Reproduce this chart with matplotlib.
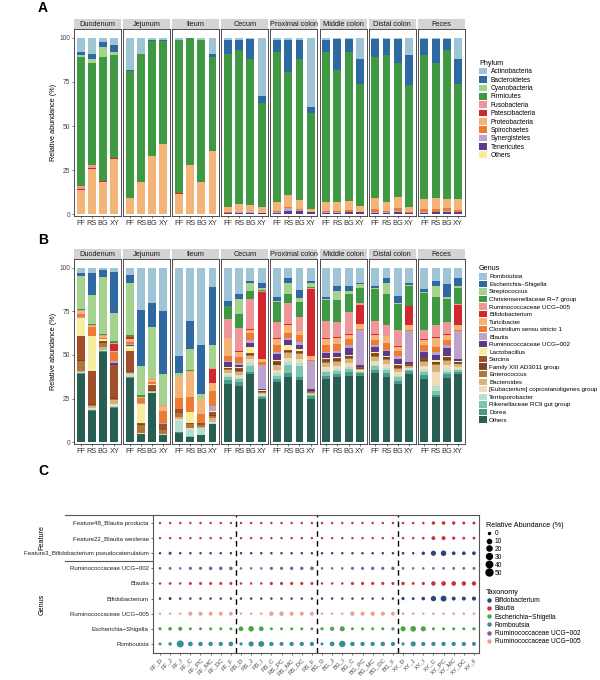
#Load packages.
import numpy as np
import matplotlib
matplotlib.use('Agg')
import matplotlib.pyplot as plt
from matplotlib.patches import Patch
from matplotlib.lines import Line2D

plt.rcParams['font.family'] = ['Liberation Sans', 'DejaVu Sans']

#Sections and groups.
sections = ['Duodenum', 'Jejunum', 'Ileum', 'Cecum', 'Proximal colon', 'Middle colon', 'Distal colon', 'Feces']
section_codes = ['D', 'J', 'I', 'C', 'PC', 'MC', 'DC', 'F']
groups = ['FF', 'RS', 'BG', 'XY']

#Phylum level (panel A).
phylum_names = ['Actinobacteria', 'Bacteroidetes', 'Cyanobacteria', 'Firmicutes', 'Fusobacteria',
                'Patescibacteria', 'Proteobacteria', 'Spirochaetes', 'Synergistetes', 'Tenericutes', 'Others']
phylum_colors = ['#9fc4d5', '#2e6aa1', '#a5d38f', '#3f9842', '#ef9798',
                 '#d0282e', '#f4b478', '#ef7a33', '#bba3cc', '#5a3a8a', '#f6ee9c']

#Rows are FF, RS, BG, XY; columns follow phylum_names.
phylum_duodenum = [[8, 1.5, 1.5, 73, 1.5, 0.5, 14, 0, 0, 0, 0],
                   [9, 3, 2, 58, 2, 0.5, 25.5, 0, 0, 0, 0],
                   [2.5, 2.5, 6, 70, 0.2, 0.3, 18.5, 0, 0, 0, 0],
                   [4, 4, 1.5, 58.5, 0.2, 0.3, 31.5, 0, 0, 0, 0]]
phylum_jejunum = [[18.5, 0.5, 0, 72, 0, 0, 9, 0, 0, 0, 0],
                  [9, 0, 0, 73, 0, 0, 18, 0, 0, 0, 0],
                  [1.5, 0.3, 0, 65.2, 0, 0, 33, 0, 0, 0, 0],
                  [1.5, 0.3, 0, 58.2, 0, 0, 40, 0, 0, 0, 0]]
phylum_ileum = [[1.5, 0, 0, 86.5, 0, 0.5, 11.5, 0, 0, 0, 0],
                [0.3, 0, 0, 71.7, 0, 0, 28, 0, 0, 0, 0],
                [1.2, 0, 0, 80.8, 0, 0, 18, 0, 0, 0, 0],
                [9, 2, 0, 53, 0, 0, 36, 0, 0, 0, 0]]
phylum_cecum = [[1, 8, 0, 87, 0, 0, 3, 0.2, 0.3, 0.5, 0],
                [1, 6, 0, 87, 0, 0, 4.5, 0.2, 0.8, 0.5, 0],
                [0.5, 11.5, 0, 83, 0, 0, 3.5, 0.2, 0.8, 0.5, 0],
                [33, 4, 0, 59, 0, 0, 3.5, 0, 0, 0.5, 0]]
phylum_proximal = [[1, 7, 0, 85, 0, 0, 5, 1, 0.3, 0.7, 0],
                   [1, 18.5, 0, 69.5, 0, 0, 7, 0.5, 1.5, 2, 0],
                   [1, 11, 0, 80, 0, 0, 5, 0.5, 0.5, 2, 0],
                   [39, 3.5, 0, 54.5, 0, 0, 2, 0, 0, 1, 0]]
phylum_middle = [[1, 7, 0, 85, 0, 0, 5, 1, 0.3, 0.7, 0],
                 [0.5, 17.5, 0, 75, 0, 0, 5, 1, 0.3, 0.7, 0],
                 [0.5, 7.5, 0, 84.6, 0, 0, 5, 1, 0.4, 1, 0],
                 [12, 14, 0, 69.5, 0, 0, 3, 0.5, 0, 0.7, 0.3]]
phylum_distal = [[0.5, 10.5, 0, 80, 0, 0, 6, 2, 0.3, 0.7, 0],
                 [0.5, 9.5, 0, 83, 0, 0, 5, 1, 0.3, 0.7, 0],
                 [0.5, 13.5, 0, 76.4, 0, 0, 6, 2, 0.6, 1, 0],
                 [10, 17, 0, 69, 0, 0, 3, 0.5, 0, 0.5, 0]]
phylum_feces = [[0.5, 9, 0, 82, 0, 0, 5.5, 2, 0.3, 0.7, 0],
                [0.5, 13.5, 0, 77, 0, 0, 6, 1.5, 0.5, 1, 0],
                [0.5, 6.5, 0, 84.5, 0, 0, 5, 1.5, 0.5, 1.5, 0],
                [12, 14, 0, 65.5, 0, 0, 6, 1, 0.5, 1, 0]]

#Genus level (panel B).
genus_names = ['Romboutsia', 'Escherichia\u2013Shigella', 'Streptococcus', 'Christensenellaceae R\u22127 group',
               'Ruminococcaceae UCG\u2212005', 'Bifidobacterium', 'Turicibacter', 'Clostridium sensu stricto 1',
               'Blautia', 'Ruminococcaceae UCG\u2212002', 'Lactobacillus', 'Sarcina', 'Family XIII AD3011 group',
               'Enterococcus', 'Bacteroides', '[Eubacterium] coprostanoligenes group', 'Terrisporobacter',
               'Rikenellaceae RC9 gut group', 'Dorea', 'Others']
genus_colors = ['#9fc4d5', '#2e6aa1', '#a5d38f', '#3f9842', '#ef9798',
                '#d0282e', '#f4b478', '#ef7a33', '#bba3cc', '#5a3a8a',
                '#f6ee9c', '#a04f2a', '#7a4626', '#b07838', '#d6b27f',
                '#efdcb6', '#b4e0d3', '#7cc4ae', '#489a88', '#295e55']

genus_duodenum = [[3, 2, 18.5, 0.8, 0.5, 0.2, 1.5, 2, 0.3, 0.2, 10, 14, 0.5, 5.5, 0.5, 0.3, 0.5, 0.2, 0.2, 39.3],
                  [3, 12.5, 16.7, 0.5, 0.5, 0.1, 0.8, 5, 0.1, 0.1, 20, 19, 0.5, 0.5, 1, 0.5, 0.7, 0.2, 0.2, 18.1],
                  [1.1, 4, 33, 0.7, 0.3, 0.1, 1, 0.5, 0.1, 0.1, 1, 0.5, 0.5, 2.5, 1.5, 0.3, 0.5, 0.1, 0.2, 52],
                  [2.5, 23.5, 16, 1.4, 0.3, 3.8, 0.5, 5.3, 1.3, 1, 0.3, 19, 0.5, 0.5, 2, 1.5, 0.5, 0.1, 0.2, 19.8]]
genus_jejunum = [[4, 5, 29.5, 1, 0.3, 1, 1.5, 1.5, 0.5, 0.5, 3, 11.5, 0.5, 0.5, 0.5, 0.5, 1.3, 0.2, 0.2, 37],
                 [24, 32.3, 16.6, 1, 0.2, 0.1, 0.5, 3, 0.1, 0.1, 11.3, 0.5, 0.3, 4.5, 0.3, 0.2, 0.3, 0.1, 0.1, 4.5],
                 [20, 14, 29.5, 0.5, 0.2, 0.2, 1, 1, 0.1, 0.1, 0.5, 3, 0.3, 0.5, 0.3, 0.2, 0.3, 0.1, 0.2, 28],
                 [25, 36, 17.5, 0.3, 0.2, 0.2, 3, 7, 0.2, 0.1, 0.2, 3, 0.3, 2, 0.2, 0.2, 0.2, 0.1, 0.1, 4.2]]
genus_ileum = [[50.8, 9.6, 2, 0.2, 0.1, 0.1, 12, 6, 0.1, 0.1, 0.2, 2, 0.2, 2, 1.5, 1, 6, 0.5, 0.2, 5.4],
               [30.3, 16.2, 12, 0.5, 0.1, 0.1, 15, 8.5, 0.1, 0.1, 6, 0.5, 0.3, 2, 0.3, 1, 3.5, 0.3, 0.2, 3],
               [44.5, 27.7, 2.8, 0.1, 0.1, 0.1, 8.6, 4.8, 0.1, 0.1, 0.2, 1, 0.2, 1, 0.3, 0.2, 3.8, 0.2, 0.1, 4.1],
               [10.8, 33.7, 12.8, 0.3, 0.2, 8.2, 4.8, 8.5, 2.8, 0.2, 0.2, 2, 0.3, 1.5, 2, 0.5, 0.5, 0.1, 0.3, 10.3]]
genus_cecum = [[19.2, 2.5, 0.5, 7.3, 10.5, 0, 10.5, 2.8, 0.5, 2.9, 0.5, 0.5, 0.5, 0.5, 1.5, 1.5, 1, 1.5, 2.5, 33.3],
               [15, 3, 8.5, 8, 13.4, 0.3, 3, 3.3, 1, 1.5, 0.5, 0.5, 1, 0.5, 2, 1.5, 1, 1.5, 2, 32.5],
               [7.5, 1.5, 4.5, 4.5, 17, 0.5, 2, 4, 1.5, 2.5, 3.5, 0.5, 0.5, 0.5, 2, 2, 2, 3, 1.5, 39],
               [8.8, 2.8, 1.2, 0.5, 0.5, 38.5, 2, 1.5, 13.5, 1, 0.2, 0.3, 0.5, 0.2, 0.8, 0.7, 0.5, 0.5, 1.5, 24.5]]
genus_proximal = [[16.5, 2.5, 0.5, 11.5, 9.5, 0.5, 3.5, 4, 1, 3.5, 0.5, 0.5, 1.5, 0.5, 2.5, 2, 1.5, 1.5, 2, 34.5],
                  [6, 3, 6, 5, 12.5, 0.5, 4.5, 3, 1, 3, 2.5, 0.5, 1, 0.5, 3, 2, 1.5, 5, 2, 37.5],
                  [13, 4.5, 2, 8.5, 8, 0.5, 2, 4, 1.5, 2.5, 1, 0.5, 1, 0.5, 3, 2, 2, 6, 2, 35.5],
                  [7.5, 1.5, 2, 0.5, 0.5, 38.5, 2.5, 0.5, 16, 1.2, 0.2, 0.2, 0.3, 0.2, 0.5, 0.5, 0.5, 0.5, 1.5, 24.9]]
genus_middle = [[16.5, 1.5, 0.5, 12, 10, 0.5, 3, 4, 1, 3, 0.5, 0.5, 1, 0.5, 2.5, 2, 1, 2, 2, 36],
                [10.4, 2.7, 5.6, 12.6, 8.5, 0.5, 3.5, 4, 1, 2.5, 0.5, 0.5, 1, 0.5, 2.5, 2, 1, 1.5, 2, 37.2],
                [10.4, 2.7, 1.9, 10.4, 12.4, 0.5, 2.5, 3.5, 1.5, 4, 0.5, 0.5, 1, 0.5, 2.5, 2, 1, 2, 2, 38.2],
                [8.6, 0.9, 1.9, 8.6, 1.3, 11, 2.9, 0.5, 20, 1, 0.3, 0.3, 0.5, 0.2, 0.8, 0.7, 0.5, 0.5, 1.5, 38]]
genus_distal = [[10.4, 1.4, 0.5, 18.2, 7.5, 0.5, 3, 3, 1, 3, 0.5, 0.5, 1, 0.5, 2.5, 2, 1, 2, 2, 39.5],
                [6, 2.8, 6.3, 17.5, 6.3, 0.5, 3.5, 4, 1, 2.5, 0.5, 0.5, 1, 0.5, 2.5, 2, 1, 2, 2, 37.6],
                [16.2, 3.8, 1, 14.8, 9, 0.5, 2.5, 3, 1.5, 3, 0.5, 0.5, 1, 0.5, 2, 2, 1, 2, 2, 33.2],
                [8.8, 0.9, 1, 11, 0.5, 10.5, 2.8, 0.5, 18, 1, 0.3, 0.3, 0.5, 0.2, 1, 1, 0.5, 0.5, 1.5, 39.2]]
genus_feces = [[12.2, 1.8, 0.5, 21.3, 5.2, 0.5, 3, 3, 1, 3, 0.5, 0.5, 1, 0.5, 2.5, 2, 1, 2, 2, 36.5],
               [7.5, 2.9, 6.6, 16.1, 6.7, 0.5, 5, 3, 1.5, 3, 1, 0.5, 1, 0.5, 4, 8, 3, 2, 1.5, 25.7],
               [9.3, 7.2, 1.5, 13.3, 6.7, 0.5, 3, 3, 1.5, 4.5, 0.5, 0.5, 1.5, 0.5, 2.5, 2.5, 1, 1.5, 2, 37],
               [6, 4.4, 1, 9.6, 0.5, 11.3, 2.9, 0.5, 16, 1.5, 0.3, 0.3, 0.7, 0.2, 1.5, 1.5, 0.5, 0.8, 1.5, 39]]

phylum_data = [phylum_duodenum, phylum_jejunum, phylum_ileum, phylum_cecum,
               phylum_proximal, phylum_middle, phylum_distal, phylum_feces]
genus_data = [genus_duodenum, genus_jejunum, genus_ileum, genus_cecum,
              genus_proximal, genus_middle, genus_distal, genus_feces]

#Dot plot (panel C): 32 columns, FF_D ... XY_F.
dot_rows = ['Feature48_Blautia producta', 'Feature22_Blautia wexlerae', 'Feature3_Bifidobacterium pseudocatenulatum',
            'Ruminococcaceae UCG\u2212002', 'Blautia', 'Bifidobacterium', 'Ruminococcaceae UCG\u2212005',
            'Escherichia\u2212Shigella', 'Romboutsia']
feature48_dots = [0.4, 0.4, 0.4, 0.4, 0.4, 0.4, 0.4, 0.4, 0.4, 0.4, 0.4, 0.4, 0.4, 0.4, 0.4, 0.4,
                  0.4, 0.4, 0.4, 0.4, 0.4, 0.4, 0.4, 0.4, 0.5, 0.5, 0.5, 4, 5, 4, 2, 2]
feature22_dots = [0.4, 0.4, 0.4, 0.4, 0.4, 0.4, 0.4, 0.4, 0.4, 0.4, 0.4, 0.4, 0.4, 0.4, 0.4, 0.4,
                  0.4, 0.4, 0.4, 0.4, 0.4, 0.4, 0.4, 0.4, 0.5, 0.5, 1, 7, 8, 3, 1.5, 1.5]
feature3_dots = [0.5, 2, 0.5, 0.5, 0.5, 0.5, 0.5, 0.5, 0.5, 0.5, 0.5, 0.5, 0.5, 0.5, 0.5, 0.5,
                 0.5, 0.5, 0.5, 0.5, 0.5, 0.5, 0.5, 0.5, 1, 0.5, 4, 20, 25, 6, 6, 6]
ucg002_dots = [1, 1.5, 0.5, 3, 3, 5, 5, 5, 0.5, 0.5, 0.5, 3, 3, 4, 4, 6,
               0.5, 0.5, 0.5, 2.5, 2.5, 4, 3, 4, 1, 0.5, 0.5, 1, 1, 1.5, 1.5, 1.5]
blautia_dots = [0.5, 1, 0.5, 2, 2, 2, 2, 2, 0.5, 0.5, 0.5, 2.5, 2.5, 2.5, 2.5, 2,
                0.5, 0.5, 0.5, 2.5, 2.5, 2.5, 2.5, 2, 4, 1.5, 3, 12, 14, 14, 12, 11]
bifido_dots = [0.5, 2, 0.5, 0.5, 0.5, 0.5, 0.5, 0.5, 0.5, 0.5, 0.5, 0.5, 0.5, 0.5, 0.5, 0.5,
               0.5, 0.5, 0.5, 0.5, 0.5, 0.5, 0.5, 0.5, 3, 1.5, 5, 22, 30, 8, 8, 9]
ucg005_dots = [0.5, 0.5, 0.3, 9, 8, 8, 7, 7, 0.5, 0.5, 0.5, 12, 12, 9, 8, 7,
               0.5, 0.3, 0.3, 12, 9, 11, 9, 7, 1, 1, 0.5, 1, 1, 1, 1, 1]
escherichia_dots = [3, 5, 8, 2, 2, 2, 2, 2, 15, 25, 15, 2, 2, 2, 2, 2,
                    3, 10, 18, 2, 2, 2, 2, 3, 20, 28, 20, 2, 2, 2, 2, 3]
romboutsia_dots = [2, 4, 50, 15, 12, 12, 10, 14, 3, 20, 30, 10, 8, 10, 10, 10,
                   2, 15, 40, 12, 10, 10, 12, 10, 3, 20, 10, 10, 10, 10, 10, 8]
dot_values = [feature48_dots, feature22_dots, feature3_dots, ucg002_dots, blautia_dots,
              bifido_dots, ucg005_dots, escherichia_dots, romboutsia_dots]

taxonomy_names = ['Bifidobacterium', 'Blautia', 'Escherichia\u2212Shigella', 'Romboutsia',
                  'Ruminococcaceae UCG\u2212002', 'Ruminococcaceae UCG\u2212005']
taxonomy_colors = ['#27467a', '#c8333b', '#4aa647', '#3a8c9c', '#7e5c9e', '#eba391']
row_taxonomy = [1, 1, 0, 4, 1, 0, 5, 2, 3]
size_breaks = [0, 10, 20, 30, 40, 50]

fig = plt.figure(figsize=(6, 6.8), dpi=100)
W, H = 600.0, 680.0


def px_axes(x0, y0, x1, y1):
    return fig.add_axes([x0 / W, 1 - y1 / H, (x1 - x0) / W, (y1 - y0) / H])


def dot_size(v):
    d = (2 + 5 * np.sqrt(np.asarray(v, dtype=float) / 50.0)) * 0.72
    return d


#Stacked bar panels A and B.
def stacked_panel(data, colors, strip_top, panel_top, panel_bottom):
    for i, sec in enumerate(sections):
        x0 = 74 + i * 49.1
        ax = px_axes(x0, panel_top, x0 + 47, panel_bottom)
        vals = np.array(data[i], dtype=float)
        x = np.arange(1, len(groups) + 1)
        bottom = np.zeros(len(groups))
        for k in range(vals.shape[1] - 1, -1, -1):
            ax.bar(x, vals[:, k], 0.7, bottom=bottom, color=colors[k], linewidth=0)
            bottom += vals[:, k]
        ax.set_xlim(0.4, 4.6)
        ax.set_ylim(-1, 105)
        ax.set_xticks(x)
        ax.set_xticklabels(groups, fontsize=5.3, color='#333333')
        ax.tick_params(axis='x', length=1.5, width=0.5, pad=1.5, color='#333333')
        for sp in ax.spines.values():
            sp.set_color('#333333')
            sp.set_linewidth(0.6)
        if i == 0:
            ax.set_yticks([0, 25, 50, 75, 100])
            ax.set_yticklabels(['0', '25', '50', '75', '100'], fontsize=4.8, color='#444444')
            ax.tick_params(axis='y', length=1.5, width=0.5, pad=1, color='#333333')
            ax.set_ylabel('Relative abundance (%)', fontsize=5.2, labelpad=2)
        else:
            ax.set_yticks([])
        strip = px_axes(x0, strip_top, x0 + 47, panel_top)
        strip.set_facecolor('#d4d4d4')
        strip.set_xticks([])
        strip.set_yticks([])
        for sp in strip.spines.values():
            sp.set_visible(False)
        strip.text(0.5, 0.45, sec, ha='center', va='center', fontsize=5.3, color='#1a1a1a')


stacked_panel(phylum_data, phylum_colors, 19, 29, 216)
stacked_panel(genus_data, genus_colors, 249, 259, 444)

#Legends for A and B.
phylum_handles = [Patch(facecolor=c, edgecolor='none') for c in phylum_colors]
fig.legend(phylum_handles, phylum_names, loc='upper left', bbox_to_anchor=(479 / W, 1 - 60 / H),
           frameon=False, fontsize=4.8, title='Phylum', title_fontsize=5.2, alignment='left',
           handlelength=1.15, handleheight=1.15, handletextpad=0.6, labelspacing=0.12,
           borderpad=0, borderaxespad=0)
genus_handles = [Patch(facecolor=c, edgecolor='none') for c in genus_colors]
fig.legend(genus_handles, genus_names, loc='upper left', bbox_to_anchor=(479 / W, 1 - 265 / H),
           frameon=False, fontsize=4.5, title='Genus', title_fontsize=5.2, alignment='left',
           handlelength=1.2, handleheight=1.2, handletextpad=0.4, labelspacing=0.18,
           borderpad=0, borderaxespad=0)

#Panel C dot plot.
axc = px_axes(153, 515, 479, 653)
cols = np.arange(1, 33)
for r, vals in enumerate(dot_values):
    col = taxonomy_colors[row_taxonomy[r]]
    axc.scatter(cols, np.full(len(cols), r + 1), s=dot_size(vals) ** 2, color=col, linewidths=0, zorder=3)
for b in [8.5, 16.5, 24.5]:
    axc.axvline(b, color='black', linestyle=(0, (4, 3)), linewidth=1.0, zorder=2)
axc.set_xlim(0.31, 32.5)
axc.set_ylim(9.6, 0.47)
axc.set_yticks(np.arange(1, len(dot_rows) + 1))
axc.set_yticklabels(dot_rows, fontsize=4.4, color='#222222')
col_labels = [g + '_' + c for g in groups for c in section_codes]
axc.set_xticks(cols)
axc.set_xticklabels(col_labels, rotation=45, ha='right', rotation_mode='anchor', fontsize=4.4, color='#444444')
axc.tick_params(length=1.5, width=0.5, pad=1.5, color='#333333')
for sp in axc.spines.values():
    sp.set_color('#555555')
    sp.set_linewidth(0.8)

#Facet lines and labels on the left of panel C.
fig.add_artist(Line2D([65 / W, 153 / W], [1 - 515 / H, 1 - 515 / H], color='#555555', linewidth=0.8))
fig.add_artist(Line2D([65 / W, 153 / W], [1 - 560.5 / H, 1 - 560.5 / H], color='#555555', linewidth=0.8))
fig.text(42 / W, 1 - 537 / H, 'Feature', rotation=90, ha='center', va='center', fontsize=5.2)
fig.text(42 / W, 1 - 604 / H, 'Genus', rotation=90, ha='center', va='center', fontsize=5.2)

#Legends for C.
size_handles = [Line2D([], [], marker='o', linestyle='', color='black', markersize=dot_size(v)) for v in size_breaks]
fig.legend(size_handles, [str(v) for v in size_breaks], loc='upper left',
           bbox_to_anchor=(486 / W, 1 - 522 / H), frameon=False, fontsize=4.8,
           title='Relative Abundance (%)', title_fontsize=5.2, alignment='left',
           handlelength=1.0, handletextpad=0.3, labelspacing=0.14, borderpad=0, borderaxespad=0)
tax_handles = [Line2D([], [], marker='o', linestyle='', color=c, markersize=2.2) for c in taxonomy_colors]
fig.legend(tax_handles, taxonomy_names, loc='upper left', bbox_to_anchor=(486 / W, 1 - 589 / H),
           frameon=False, fontsize=4.8, title='Taxonomy', title_fontsize=5.2, alignment='left',
           handlelength=1.0, handletextpad=0.3, labelspacing=0.18, borderpad=0, borderaxespad=0)

#Panel letters.
for letter, y in [('A', 8), ('B', 240), ('C', 471)]:
    fig.text(43 / W, 1 - y / H, letter, fontsize=10, fontweight='bold', ha='center', va='center')

fig.savefig('out.png', dpi=100)
